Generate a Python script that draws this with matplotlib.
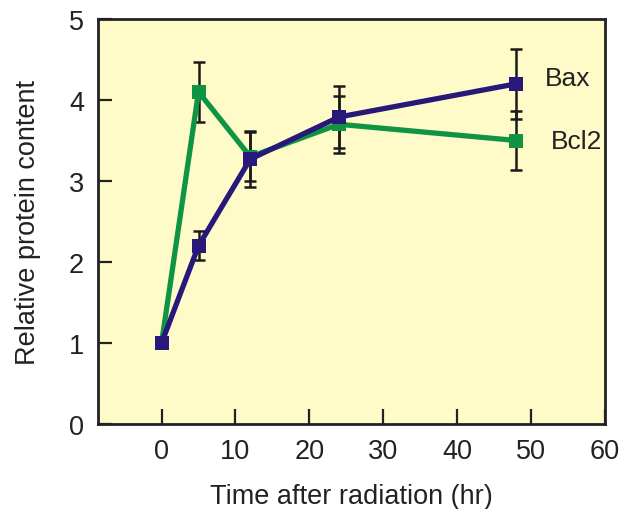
import matplotlib
matplotlib.use("Agg")
import matplotlib.pyplot as plt

time_hr = [0, 5, 12, 24, 48]
bax = [1.0, 2.2, 3.27, 3.79, 4.2]
bax_err = [0.05, 0.18, 0.35, 0.38, 0.43]
bcl2 = [1.0, 4.1, 3.3, 3.7, 3.5]
bcl2_err = [0.05, 0.37, 0.3, 0.35, 0.36]
x_ticks = [0, 10, 20, 30, 40, 50, 60]
y_ticks = [0, 1, 2, 3, 4, 5]

plt.rcParams['font.family'] = ['Liberation Sans', 'DejaVu Sans']

fig = plt.figure(figsize=(6.39, 5.10), dpi=100)
ax = fig.add_axes([98/639, 1-425/510, 507/639, 405/510])
ax.set_facecolor('#fffbc8')

bax_color = '#27187a'
bcl2_color = '#0f9444'

for y, e in ((bcl2, bcl2_err), (bax, bax_err)):
    ax.errorbar(time_hr, y, yerr=e, fmt='none', ecolor='#1a1a1a',
                elinewidth=1.8, capsize=4.5, capthick=1.8, zorder=2)

ax.plot(time_hr, bcl2, color=bcl2_color, lw=3.8, marker='s', ms=10,
        markeredgewidth=0, zorder=3)
ax.plot(time_hr, bax, color=bax_color, lw=3.8, marker='s', ms=10,
        markeredgewidth=0, zorder=4)

ax.text(51.9, bax[-1] + 0.07, 'Bax', fontsize=19, va='center', ha='left', color='#222222')
ax.text(52.7, bcl2[-1] + 0.0, 'Bcl2', fontsize=19, va='center', ha='left', color='#222222')

ax.set_xlim(-8.6, 60)
ax.set_ylim(0, 5)
ax.set_xticks(x_ticks)
ax.set_yticks(y_ticks)
ax.tick_params(axis='x', direction='in', length=11, width=1.6, labelsize=19.5, pad=10, colors='#222222')
ax.tick_params(axis='y', direction='in', length=10, width=1.6, labelsize=19.5, pad=10, colors='#222222')
ax.tick_params(top=False, right=False)
for s in ax.spines.values():
    s.set_linewidth(2.0)
    s.set_color('#222222')

ax.set_xlabel('Time after radiation (hr)', fontsize=19.5, labelpad=14, color='#222222')
ax.set_ylabel('Relative protein content', fontsize=19.5, labelpad=20, color='#222222')

fig.savefig('out.png', dpi=100, facecolor='white')
